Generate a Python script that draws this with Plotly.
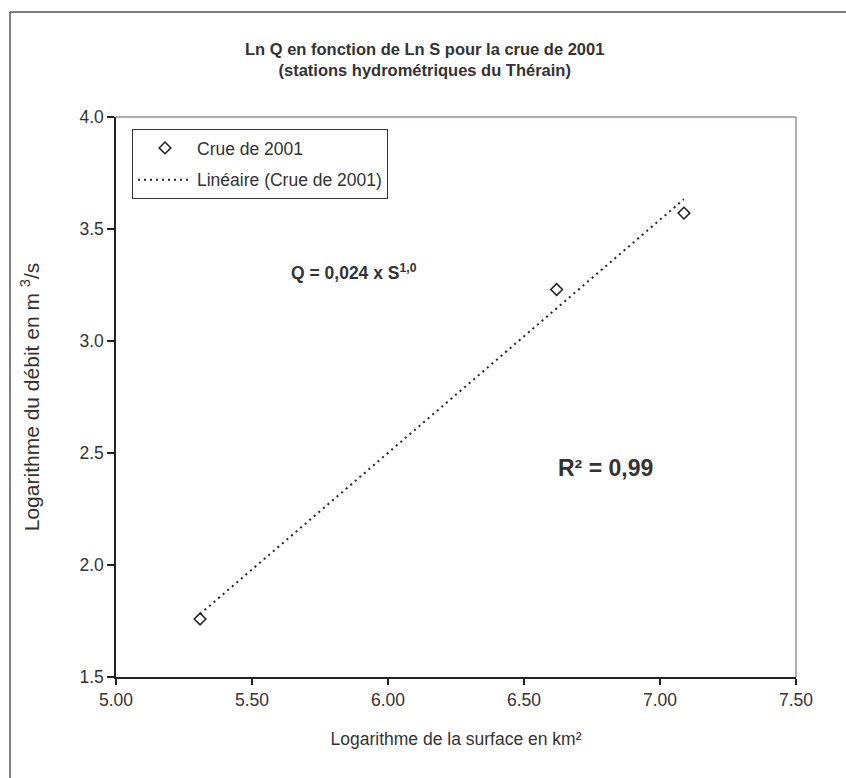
import numpy as np
import plotly.graph_objects as go

# Data (ln S in km², ln Q in m3/s)
ln_surface = [5.309, 6.62, 7.088]
ln_debit = [1.759, 3.23, 3.571]
series_name = "Crue de 2001"
trend_name = "Linéaire (Crue de 2001)"
x_ticks = [5.0, 5.5, 6.0, 6.5, 7.0, 7.5]
y_ticks = [1.5, 2.0, 2.5, 3.0, 3.5, 4.0]

FONT = "Liberation Sans, Arial, sans-serif"
TXT = "#333333"
FS = 17.5

# Linear trend (Excel-style) computed from data
b, a = np.polyfit(ln_surface, ln_debit, 1)
x_fit = np.array([min(ln_surface), max(ln_surface)])
y_fit = a + b * x_fit

W, H = 846, 778
L, R, T, B = 116, 50, 117, 101

fig = go.Figure()
fig.add_trace(go.Scatter(
    x=ln_surface, y=ln_debit, mode="markers", name=series_name, legendgroup="g1",
    marker=dict(symbol="diamond-open", size=9, color="#222222", line=dict(width=1.5, color="#222222")),
))
fig.add_trace(go.Scatter(
    x=x_fit, y=y_fit, mode="lines", name=trend_name, legendgroup="g2",
    line=dict(color="#222222", width=2, dash="2px,4px"),
))

pw, ph = W - L - R, H - T - B
def px(xp):
    return (xp - L) / pw
def py(yp):
    return (H - B - yp) / ph

shapes = [
    dict(type="line", xref="paper", yref="paper", x0=0, x1=1, y0=1, y1=1, line=dict(color="#9a9090", width=1.5)),
    dict(type="line", xref="paper", yref="paper", x0=1, x1=1, y0=0, y1=1, line=dict(color="#9a9090", width=1.5)),
    dict(type="line", xref="paper", yref="paper", x0=px(10), x1=px(10), y0=py(900), y1=py(12), line=dict(color="#555555", width=1.5)),
    dict(type="line", xref="paper", yref="paper", x0=px(10), x1=px(1000), y0=py(12), y1=py(12), line=dict(color="#555555", width=1.5)),
]

annotations = [
    dict(text="<b>Ln Q en fonction de Ln S pour la crue de 2001<br>(stations hydrométriques du Thérain)</b>",
         xref="paper", yref="paper", x=px(424), y=py(60), xanchor="center", yanchor="middle",
         showarrow=False, font=dict(family=FONT, size=16.5, color=TXT)),
    dict(text="<b>Q = 0,024 x S<sup>1,0</sup></b>", xref="paper", yref="paper",
         x=px(289), y=py(272), xanchor="left", yanchor="middle",
         showarrow=False, font=dict(family=FONT, size=FS, color=TXT)),
    dict(text="<b>R² = 0,99</b>", xref="paper", yref="paper",
         x=px(605), y=py(468), xanchor="center", yanchor="middle",
         showarrow=False, font=dict(family=FONT, size=23, color=TXT)),
]

fig.update_layout(
    width=W, height=H,
    margin=dict(l=L, r=R, t=T, b=B),
    paper_bgcolor="white", plot_bgcolor="white",
    font=dict(family=FONT, size=FS, color=TXT),
    showlegend=True,
    legend=dict(x=px(132), y=py(129), xanchor="left", yanchor="top",
                bgcolor="white", bordercolor="#333333", borderwidth=1,
                font=dict(family=FONT, size=FS, color=TXT),
                traceorder="grouped", tracegroupgap=6, itemwidth=54),
    shapes=shapes,
    annotations=annotations,
    xaxis=dict(range=[5, 7.5], tickvals=x_ticks, ticktext=[f"{v:.2f}" for v in x_ticks],
               showgrid=False, zeroline=False, showline=True, linecolor="#222222", linewidth=1.5,
               ticks="outside", ticklen=6, tickcolor="#222222", tickwidth=1.5,
               tickfont=dict(family=FONT, size=FS, color=TXT),
               title=dict(text="Logarithme de la surface en km²", standoff=24,
                          font=dict(family=FONT, size=FS, color=TXT))),
    yaxis=dict(range=[1.5, 4.0], tickvals=y_ticks, ticktext=[f"{v:.1f}" for v in y_ticks],
               showgrid=False, zeroline=False, showline=True, linecolor="#222222", linewidth=1.5,
               ticks="outside", ticklen=7, tickcolor="#222222", tickwidth=1.5,
               tickfont=dict(family=FONT, size=FS, color=TXT),
               title=dict(text="Logarithme du débit en m <sup>3</sup>/s", standoff=34,
                          font=dict(family=FONT, size=21, color=TXT))),
)

fig.write_html("out.html")
